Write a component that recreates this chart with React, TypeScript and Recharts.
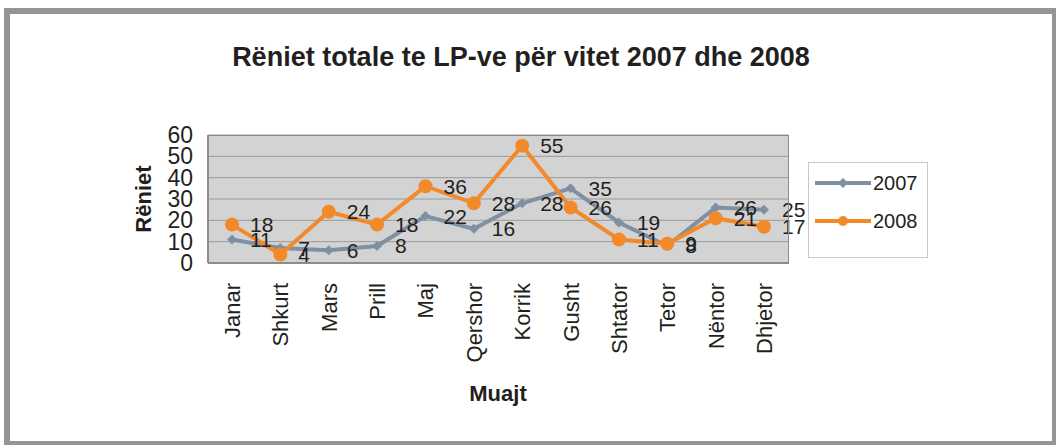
import { CartesianGrid, LabelList, Line, LineChart, XAxis, YAxis } from "recharts";

const months = [
  "Janar",
  "Shkurt",
  "Mars",
  "Prill",
  "Maj",
  "Qershor",
  "Korrik",
  "Gusht",
  "Shtator",
  "Tetor",
  "Nëntor",
  "Dhjetor",
];
const values2007 = [11, 7, 6, 8, 22, 16, 28, 35, 19, 8, 26, 25];
const values2008 = [18, 4, 24, 18, 36, 28, 55, 26, 11, 9, 21, 17];
const yTicks = [0, 10, 20, 30, 40, 50, 60];

const data = months.map((m, i) => ({
  month: m,
  y2007: values2007[i],
  y2008: values2008[i],
}));

const FONT = "'Liberation Sans', Arial, sans-serif";
const C2007 = "#7e90a1";
const C2008 = "#f28a2c";
const TEXT = "#231f20";

function MonthTick({ x, y, payload }: any) {
  return (
    <text
      transform={`translate(${x + 8},${y}) rotate(-90)`}
      textAnchor="end"
      fontFamily={FONT}
      fontSize={22}
      fill={TEXT}
    >
      {payload.value}
    </text>
  );
}

function Diamond({ cx, cy }: any) {
  if (cx == null || cy == null) return null;
  return (
    <path
      d={`M${cx},${cy - 5} L${cx + 5},${cy} L${cx},${cy + 5} L${cx - 5},${cy} Z`}
      fill={C2007}
    />
  );
}

export default function App() {
  return (
    <div
      style={{
        position: "absolute",
        left: 0,
        top: 0,
        width: 1056,
        height: 445,
        background: "#fff",
        fontFamily: FONT,
      }}
    >
      <div
        style={{
          position: "absolute",
          left: 4,
          top: 8,
          width: 1052,
          height: 437,
          boxSizing: "border-box",
          borderStyle: "solid",
          borderColor: "#939598",
          borderWidth: "6px 4px 4px 6px",
        }}
      />
      <div
        style={{
          position: "absolute",
          left: 0,
          width: 1042,
          top: 42,
          textAlign: "center",
          fontWeight: "bold",
          fontSize: 27,
          color: TEXT,
        }}
      >
        Rëniet totale te LP-ve për vitet 2007 dhe 2008
      </div>
      <div style={{ position: "absolute", left: 0, top: 0 }}>
        <LineChart
          width={1056}
          height={445}
          data={data}
          margin={{ top: 135, right: 268, left: 0, bottom: 0 }}
        >
          <CartesianGrid
            vertical={false}
            stroke="#9a9a9a"
            fill="#d3d3d3"
            fillOpacity={1}
          />
          <XAxis
            dataKey="month"
            height={182}
            interval={0}
            padding={{ left: 24, right: 24 }}
            tick={<MonthTick />}
            tickLine={false}
            tickSize={0}
            tickMargin={20}
            axisLine={{ stroke: "#8c8c8c", strokeWidth: 2 }}
            label={{
              value: "Muajt",
              position: "insideBottom",
              offset: 44,
              fontFamily: FONT,
              fontSize: 22,
              fontWeight: "bold",
              fill: TEXT,
            }}
          />
          <YAxis
            width={208}
            domain={[0, 60]}
            ticks={yTicks}
            interval={0}
            tickLine={false}
            tickSize={0}
            tickMargin={15}
            axisLine={{ stroke: "#8c8c8c", strokeWidth: 2 }}
            tick={{ fontFamily: FONT, fontSize: 23, fill: TEXT }}
            label={{
              content: ({ viewBox }: any) => (
                <text
                  transform={`translate(143,${viewBox.y + viewBox.height / 2}) rotate(-90)`}
                  textAnchor="middle"
                  dominantBaseline="central"
                  fontFamily={FONT}
                  fontSize={22}
                  fontWeight="bold"
                  fill={TEXT}
                >
                  Rëniet
                </text>
              ),
            }}
          />
          <Line
            dataKey="y2007"
            name="2007"
            stroke={C2007}
            strokeWidth={4}
            dot={<Diamond />}
            isAnimationActive={false}
          >
            <LabelList
              dataKey="y2007"
              position="right"
              offset={18}
              fontFamily={FONT}
              fontSize={21}
              fill={TEXT}
            />
          </Line>
          <Line
            dataKey="y2008"
            name="2008"
            stroke={C2008}
            strokeWidth={4}
            dot={{ r: 5, fill: C2008, stroke: C2008 }}
            isAnimationActive={false}
          >
            <LabelList
              dataKey="y2008"
              position="right"
              offset={18}
              fontFamily={FONT}
              fontSize={21}
              fill={TEXT}
            />
          </Line>
        </LineChart>
      </div>
      <div
        style={{
          position: "absolute",
          left: 208,
          top: 135,
          width: 581,
          height: 129,
          boxSizing: "border-box",
          border: "1px solid #8c8c8c",
          pointerEvents: "none",
        }}
      />
      <div
        style={{
          position: "absolute",
          left: 808,
          top: 162,
          width: 120,
          height: 96,
          boxSizing: "border-box",
          border: "1px solid #c8c8c8",
          fontSize: 20,
          color: TEXT,
        }}
      >
        {[
          { label: "2007", color: C2007, diamond: true, top: 8 },
          { label: "2008", color: C2008, diamond: false, top: 46 },
        ].map((e) => (
          <div
            key={e.label}
            style={{
              position: "absolute",
              left: 6,
              top: e.top,
              height: 24,
              display: "flex",
              alignItems: "center",
            }}
          >
            <svg width={56} height={24}>
              <line x1={0} y1={12} x2={56} y2={12} stroke={e.color} strokeWidth={4} />
              {e.diamond ? (
                <path d="M28,7 L33,12 L28,17 L23,12 Z" fill={e.color} />
              ) : (
                <circle cx={28} cy={12} r={5} fill={e.color} />
              )}
            </svg>
            <span style={{ marginLeft: 2 }}>{e.label}</span>
          </div>
        ))}
      </div>
    </div>
  );
}
